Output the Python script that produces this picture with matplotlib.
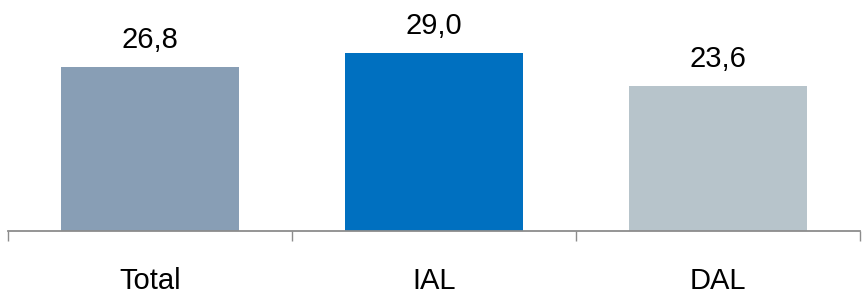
import matplotlib
matplotlib.use("Agg")
import matplotlib.pyplot as plt

categories = ["Total", "IAL", "DAL"]
values = [26.8, 29.0, 23.6]
labels = ["26,8", "29,0", "23,6"]
colors = ["#889EB5", "#0070C0", "#B7C4CB"]

plt.rcParams['font.family'] = ['Liberation Sans', 'DejaVu Sans']

fig = plt.figure(figsize=(8.65, 2.97), dpi=100)
ax = fig.add_axes([8/865, (297-231)/297, 852/865, 231/297])
x = range(len(categories))
bars = ax.bar(x, values, width=0.627, color=colors)
for xi, v, lab in zip(x, values, labels):
    ax.annotate(lab, (xi, v), xytext=(0, 19), textcoords="offset pixels",
                ha="center", va="baseline", fontsize=21)
ax.set_xlim(-0.5, 2.5)
ax.set_ylim(0, 37.7)
for s in ["top", "right", "left"]:
    ax.spines[s].set_visible(False)
ax.spines["bottom"].set_color("#8C8C8C")
ax.spines["bottom"].set_linewidth(1.3)
ax.set_yticks([])
ax.set_xticks([-0.5, 0.5, 1.5, 2.5])
ax.set_xticklabels([])
ax.tick_params(axis="x", length=7, width=1.0, color="#8C8C8C")
for xi, c in zip(x, categories):
    ax.annotate(c, (xi, 0), xytext=(0, -58), textcoords="offset pixels",
                ha="center", va="baseline", fontsize=21, annotation_clip=False)
fig.savefig("out.png", dpi=100)
